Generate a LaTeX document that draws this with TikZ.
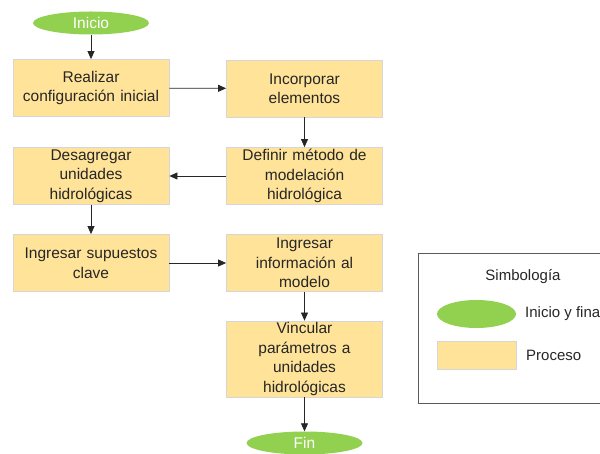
\documentclass[tikz,border=0pt]{standalone}
\usepackage{fontspec}
\setmainfont{Liberation Sans}
\usetikzlibrary{shapes.geometric,arrows.meta}
\definecolor{procfill}{HTML}{FFE399}
\definecolor{procline}{HTML}{D6D6D6}
\definecolor{termfill}{HTML}{92D050}
\definecolor{legline}{HTML}{5A5A5A}
\begin{document}
\begin{tikzpicture}[x=1pt,y=-1pt,
  procbox/.style={draw=procline,fill=procfill,line width=0.8pt,minimum width=156pt,minimum height=57pt,
    inner sep=0pt,align=center,text width=154pt,font=\fontsize{15.5}{19.5}\selectfont,text=black!85},
  terminal/.style={ellipse,fill=termfill,draw=none,minimum width=116pt,minimum height=23pt,inner sep=0pt,
    text=white,font=\fontsize{15.5}{17}\selectfont},
  flow/.style={draw=black!85,line width=0.8pt,-{Triangle[length=8pt,width=7pt]}},
  legtext/.style={anchor=west,inner sep=0pt,font=\fontsize{15}{17}\selectfont,text=black!85}]
\useasboundingbox (0,0) rectangle (600,454);
\begin{scope}
\clip (0,0) rectangle (600,454);
% flow nodes
\node[terminal] (inicio) at (91,23) {Inicio};
\node[procbox] (conf) at (91,88) {Realizar\\configuración inicial};
\node[procbox] (incorp) at (304.5,88.5) {Incorporar\\elementos};
\node[procbox] (metodo) at (304.5,176) {Definir método de\\modelación\\hidrológica};
\node[procbox] (desag) at (91,176) {Desagregar\\unidades\\hidrológicas};
\node[procbox] (supuestos) at (91,263) {Ingresar supuestos\\clave};
\node[procbox] (info) at (304.5,263) {Ingresar\\información al\\modelo};
\node[procbox,minimum height=76pt] (vincular) at (304.5,359) {Vincular\\parámetros a\\unidades\\hidrológicas};
\node[terminal] (fin) at (304.5,443) {Fin};
% connectors
\draw[flow] (inicio) -- (conf);
\draw[flow] (conf) -- (incorp);
\draw[flow] (incorp) -- (metodo);
\draw[flow] (metodo) -- (desag);
\draw[flow] (desag) -- (supuestos);
\draw[flow] (supuestos) -- (info);
\draw[flow] (info) -- (vincular);
\draw[flow] (vincular) -- (fin);
% legend
\draw[draw=legline,line width=1pt] (418,254) rectangle (640,403);
\node[inner sep=0pt,font=\fontsize{15}{17}\selectfont,text=black!85] (leghead) at (523,277) {Simbología};
\node[ellipse,fill=termfill,minimum width=79pt,minimum height=28pt,inner sep=0pt] (legterm) at (476.5,314) {};
\node[legtext] (legtermtxt) at (525,314) {Inicio y final};
\node[draw=procline,fill=procfill,line width=0.8pt,minimum width=79pt,minimum height=28pt,inner sep=0pt] (legproc) at (476.5,355) {};
\node[legtext] (legproctxt) at (526,355) {Proceso};
\end{scope}
\end{tikzpicture}
\end{document}
